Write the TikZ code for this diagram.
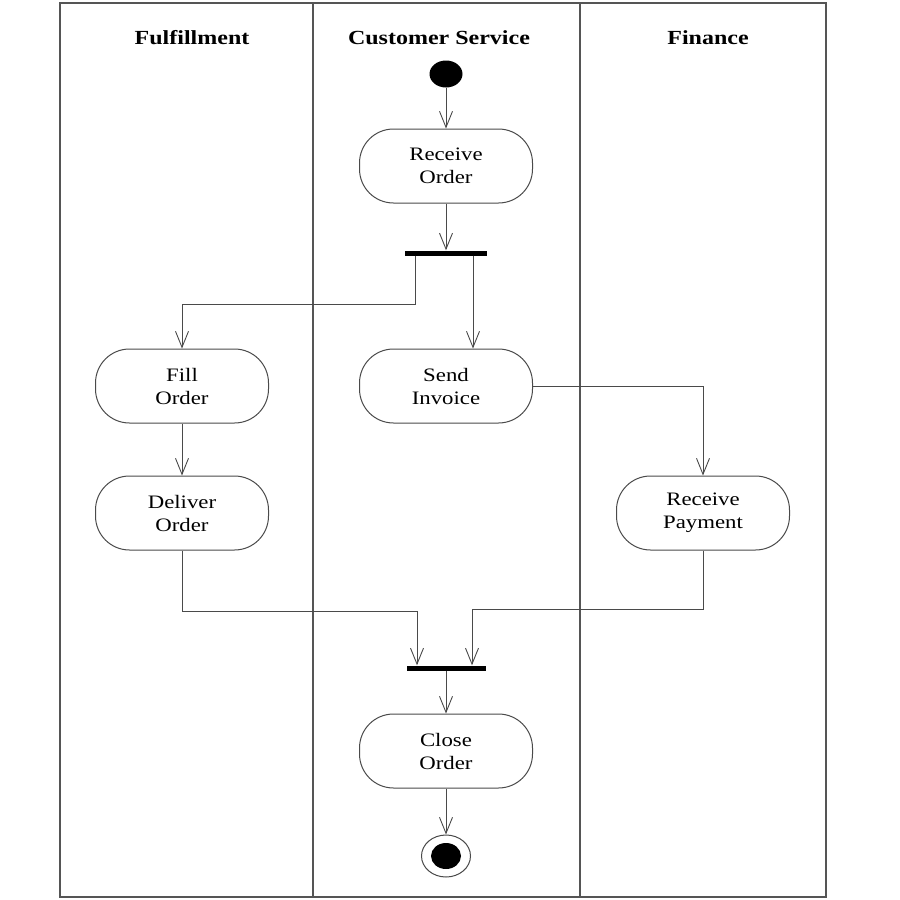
\documentclass[tikz,border=0pt]{standalone}
\usepackage{fontspec}
\setmainfont{Liberation Serif}[FakeStretch=1.2]
\usetikzlibrary{arrows.meta,shapes.geometric}
\definecolor{ink}{HTML}{4A4A4A}
\definecolor{lane}{HTML}{555555}
\tikzset{
  x=1pt, y=-1pt,
  activity/.style={draw=ink, line width=1pt, rectangle, rounded corners=34pt,
    minimum width=173pt, minimum height=74pt, inner sep=0pt, align=center,
    font=\fontsize{19}{23}\selectfont},
  bar/.style={fill=black, draw=none, minimum height=5pt, inner sep=0pt},
  lanetitle/.style={anchor=base, font=\fontsize{20}{24}\selectfont\bfseries},
  flow/.style={draw=ink, line width=1pt,
    -{Straight Barb[length=16pt,width=13pt,line width=0.9pt]}},
  link/.style={draw=ink, line width=1pt},
}
\begin{document}
\begin{tikzpicture}
\useasboundingbox (0,0) rectangle (900,900);
\fill[white] (0,0) rectangle (900,900);

% swimlanes
\draw[lane, line width=1.3pt] (60,3) rectangle (826,897);
\draw[lane, line width=1.3pt] (313,3) -- (313,897);
\draw[lane, line width=1.3pt] (580,3) -- (580,897);
\node[lanetitle] (t1) at (192,44) {Fulfillment};
\node[lanetitle] (t2) at (439,44) {Customer Service};
\node[lanetitle] (t3) at (708,44) {Finance};

% nodes
\node[ellipse, fill=black, minimum width=33pt, minimum height=27pt, inner sep=0pt] (start) at (446,74) {};
\node[activity] (recv) at (446,166) {Receive\\Order};
\node[bar, minimum width=82pt] (fork) at (446,253) {};
\node[activity] (fill) at (182,386) {Fill\\Order};
\node[activity] (send) at (446,386) {Send\\Invoice};
\node[activity] (deliver) at (182,513) {Deliver\\Order};
\node[activity] (pay) at (703,513) {Receive\\Payment};
\node[bar, minimum width=79pt] (join) at (446,668) {};
\node[activity] (close) at (446,751) {Close\\Order};
\node[ellipse, draw=ink, line width=1pt, minimum width=49pt, minimum height=42pt, inner sep=0pt] (final) at (446,856) {};
\node[ellipse, fill=black, minimum width=30pt, minimum height=26pt, inner sep=0pt] (finaldot) at (final.center) {};

% connectors
\draw[flow] (start.south) -- (recv.north);
\draw[flow] (recv.south) -- (fork.north);
\draw[flow] ([xshift=-31pt]fork.south) -- ++(0,49) -| (fill.north);
\draw[flow] ([xshift=27pt]fork.south) -- ([xshift=27pt]send.north);
\draw[flow] (send.east) -| (pay.north);
\draw[flow] (fill.south) -- (deliver.north);
\draw[flow] (deliver.south) -- ++(0,61) -| ([xshift=-29pt]join.north);
\draw[flow] (pay.south) -- ++(0,59) -| ([xshift=26pt]join.north);
\draw[flow] (join.south) -- (close.north);
\draw[flow] (close.south) -- (final.north);
\end{tikzpicture}
\end{document}
